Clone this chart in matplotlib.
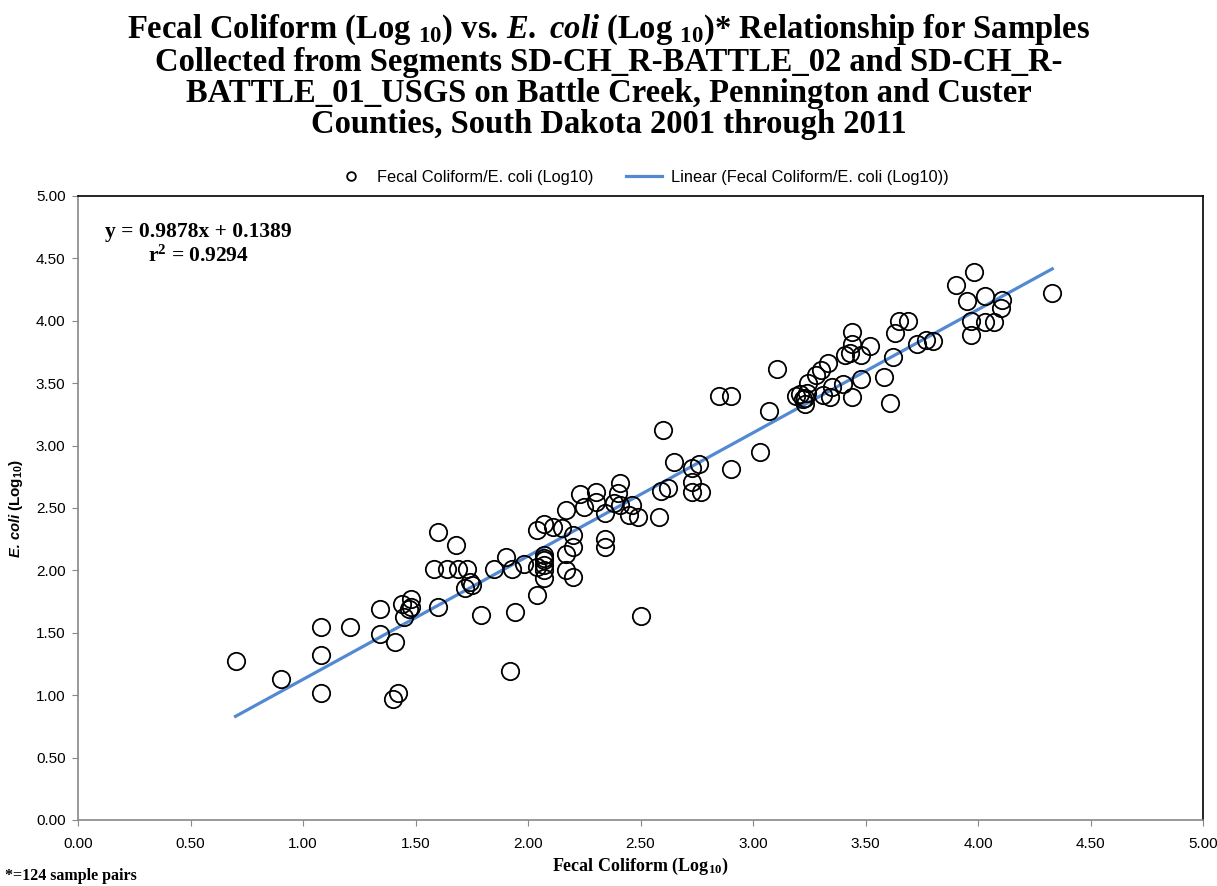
import numpy as np
import matplotlib
matplotlib.use("Agg")
import matplotlib.pyplot as plt

plt.rcParams['mathtext.fontset'] = 'custom'
plt.rcParams['mathtext.rm'] = 'Liberation Serif:bold'
plt.rcParams['mathtext.bf'] = 'Liberation Serif:bold'
plt.rcParams['mathtext.it'] = 'Liberation Serif:italic:bold'
plt.rcParams['mathtext.sf'] = 'Liberation Sans:bold'

# Log10 fecal coliform vs log10 E. coli, one pair per sample
fecal = [0.70, 0.90, 1.08, 1.21, 1.08, 1.08, 1.34, 1.34, 1.41, 1.42,
         1.40, 1.45, 1.44, 1.48, 1.48, 1.60, 1.60, 1.68, 1.58, 1.64,
         1.69, 1.73, 1.72, 1.74, 1.75, 1.79, 1.85, 1.94, 2.04, 1.90,
         1.93, 1.98, 2.04, 2.07, 2.07, 2.07, 2.07, 2.07, 2.04, 2.07,
         2.11, 2.15, 2.20, 2.20, 2.17, 2.17, 2.20, 2.17, 2.23, 2.25,
         2.30, 2.30, 2.34, 2.34, 2.34, 2.38, 2.40, 2.41, 2.41, 2.46,
         2.45, 2.49, 2.50, 2.60, 2.58, 2.59, 2.62, 2.65, 2.73, 2.76,
         2.73, 2.73, 2.77, 1.92, 2.90, 3.03, 2.85, 2.90, 3.105, 3.07,
         3.19, 3.21, 3.23, 3.23, 3.24, 3.245, 3.28, 3.30, 3.335, 3.31,
         3.34, 3.35, 3.40, 3.44, 3.41, 3.43, 3.44, 3.44, 3.48, 3.52,
         3.48, 3.58, 3.61, 3.62, 3.63, 3.65, 3.69, 3.73, 3.77, 3.80,
         3.98, 3.90, 3.95, 4.03, 4.105, 4.10, 3.97, 4.03, 4.07, 3.97,
         4.33, 2.07, 3.22, 1.47]
ecoli = [1.27, 1.13, 1.55, 1.55, 1.32, 1.02, 1.69, 1.49, 1.43, 1.02,
         0.97, 1.63, 1.73, 1.77, 1.71, 1.71, 2.31, 2.20, 2.01, 2.01,
         2.01, 2.01, 1.86, 1.91, 1.88, 1.64, 2.01, 1.67, 1.80, 2.11,
         2.01, 2.05, 2.03, 2.12, 2.08, 2.04, 2.00, 1.94, 2.32, 2.37,
         2.35, 2.34, 2.28, 2.19, 2.135, 2.00, 1.95, 2.48, 2.61, 2.51,
         2.63, 2.55, 2.46, 2.255, 2.19, 2.54, 2.62, 2.70, 2.52, 2.52,
         2.44, 2.43, 1.635, 3.125, 2.43, 2.64, 2.66, 2.87, 2.82, 2.85,
         2.71, 2.625, 2.625, 1.19, 2.81, 2.95, 3.40, 3.40, 3.61, 3.28,
         3.40, 3.41, 3.38, 3.33, 3.42, 3.50, 3.565, 3.605, 3.66, 3.405,
         3.39, 3.47, 3.49, 3.39, 3.725, 3.74, 3.81, 3.91, 3.725, 3.80,
         3.53, 3.55, 3.34, 3.71, 3.90, 4.00, 4.00, 3.81, 3.85, 3.84,
         4.39, 4.29, 4.16, 4.20, 4.17, 4.10, 4.00, 3.99, 3.99, 3.89,
         4.22, 2.10, 3.37, 1.69]

slope = 0.9878
intercept = 0.1389
r2 = 0.9294

fecal = np.array(fecal)
ecoli = np.array(ecoli)

fig = plt.figure(figsize=(12.17, 8.86), dpi=100)
ax = fig.add_axes([0.0641, 0.0745, 0.9244, 0.7043])

ax.plot(fecal, ecoli, linestyle='none', marker='o', markersize=12.5,
        markerfacecolor='none', markeredgecolor='black', markeredgewidth=1.3,
        label='Fecal Coliform/E. coli (Log10)', zorder=3)

xfit = np.array([fecal.min(), fecal.max()])
ax.plot(xfit, slope * xfit + intercept, color='#5389d2', linewidth=2.3,
        label='Linear (Fecal Coliform/E. coli (Log10))', zorder=2)

ticks = np.arange(0, 5.01, 0.5)
ax.set_xlim(0, 5)
ax.set_ylim(0, 5)
ax.set_xticks(ticks)
ax.set_yticks(ticks)
ax.set_xticklabels([f'{v:.2f}' for v in ticks])
ax.set_yticklabels([f'{v:.2f}' for v in ticks])
ax.tick_params(axis='both', direction='out', length=4, color='#888888',
               labelsize=11, pad=5)
ax.tick_params(axis='x', pad=8)
for lab in ax.get_xticklabels() + ax.get_yticklabels():
    lab.set_family('Liberation Sans')

for side in ['top', 'right']:
    ax.spines[side].set_color('black')
    ax.spines[side].set_linewidth(1.2)
for side in ['left', 'bottom']:
    ax.spines[side].set_color('#888888')
    ax.spines[side].set_linewidth(1.2)

ax.set_xlabel(r'Fecal Coliform (Log$_{\mathbf{10}}$)', fontsize=13,
              fontweight='bold', family='Liberation Serif', labelpad=4)

# y label in two pieces: italic species name, then upright units above it
ylab1 = fig.text(0.013, 0.371, 'E. coli', rotation=90, ha='center',
                 va='bottom', fontsize=10.5, fontweight='bold',
                 fontstyle='italic', family='Liberation Sans')
renderer = fig.canvas.get_renderer()
bb = ylab1.get_window_extent(renderer).transformed(fig.transFigure.inverted())
fig.text(0.013, bb.y1 + 0.004, r'(Log$_{\mathsf{10}}$)', rotation=90,
         ha='center', va='bottom', fontsize=11, fontweight='bold',
         family='Liberation Sans')

ax.text(0.024, 0.943, f'y = {slope}x + {intercept}', transform=ax.transAxes,
        fontsize=15.5, fontweight='bold', family='Liberation Serif',
        ha='left', va='center')
ax.text(0.062, 0.904, f'r$^2$ = {r2}', transform=ax.transAxes,
        fontsize=15.5, fontweight='bold', family='Liberation Serif',
        ha='left', va='center')

ax.legend(loc='lower center', bbox_to_anchor=(0.5, 1.0), ncol=2,
          frameon=False, prop={'family': 'Liberation Sans', 'size': 11.8},
          markerscale=0.5, handlelength=2.2, handletextpad=0.5,
          columnspacing=2.0, borderaxespad=0.3)

title = ('Fecal Coliform (Log $_{10}$) vs. $\\mathit{E.}$ $\\mathit{coli}$ (Log $_{10}$)* Relationship for Samples'
         '\nCollected from Segments SD-CH_R-BATTLE_02 and SD-CH_R-'
         '\nBATTLE_01_USGS on Battle Creek, Pennington and Custer'
         '\nCounties, South Dakota 2001 through 2011')
fig.text(0.5, 0.986, title, ha='center', va='top', fontsize=23.5,
         fontweight='bold', family='Liberation Serif', linespacing=1.0)

fig.text(0.004, 0.002, '*=124 sample pairs', ha='left', va='bottom',
         fontsize=11.5, fontweight='bold', family='Liberation Serif')

fig.savefig('out.png', dpi=100)
